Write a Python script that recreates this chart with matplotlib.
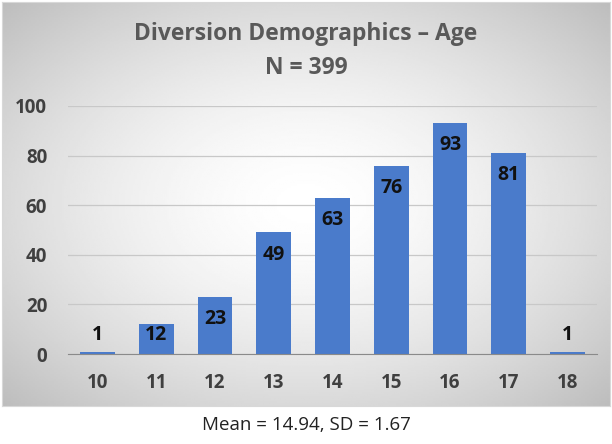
import numpy as np
import matplotlib.pyplot as plt

ages = ["10", "11", "12", "13", "14", "15", "16", "17", "18"]
counts = [1, 12, 23, 49, 63, 76, 93, 81, 1]
title = "Diversion Demographics \u2013 Age\nN = 399"
footer = "Mean = 14.94, SD = 1.67"

plt.rcParams['font.family'] = ['Open Sans', 'DejaVu Sans']

fig = plt.figure(figsize=(6.12, 4.44), dpi=100)

# radial gradient backdrop for the chart box
bg = fig.add_axes([2 / 612, 1 - 406 / 444, 608 / 612, 404 / 444])
gx, gy = np.meshgrid(np.linspace(-1, 1, 300), np.linspace(-1, 1, 220))
r = np.sqrt(gx ** 2 + gy ** 2) / np.sqrt(2)
bg.imshow(1 - 0.26 * r ** 1.6, cmap="gray", vmin=0, vmax=1, aspect="auto",
          extent=[0, 1, 0, 1])
bg.set_xticks([])
bg.set_yticks([])
for s in bg.spines.values():
    s.set_color("#d8d8d8")

ax = fig.add_axes([68 / 612, 1 - 354 / 444, 529 / 612, 248 / 444])
ax.patch.set_alpha(0)
x = np.arange(len(ages))
ax.bar(x, counts, width=0.59, color="#4A7BCB", zorder=3)
ax.set_xlim(-0.5, len(ages) - 0.5)
ax.set_ylim(0, 100)
ax.set_yticks([0, 20, 40, 60, 80, 100])
ax.set_xticks(x)
ax.set_xticklabels(ages)
ax.tick_params(length=0, labelsize=13.5, labelcolor="#404040")
ax.tick_params(axis="x", pad=14)
ax.tick_params(axis="y", pad=15)
for lbl in ax.get_xticklabels() + ax.get_yticklabels():
    lbl.set_fontweight("bold")
ax.grid(axis="y", color="#c8c8c8", linewidth=0.9, zorder=0)
for s in ["top", "right", "left"]:
    ax.spines[s].set_visible(False)
ax.spines["bottom"].set_color("#8a8a8a")
ax.spines["bottom"].set_zorder(4)

for xi, v in zip(x, counts):
    ax.text(xi, max(v - 8.9, 7.7), str(v), ha="center", va="center",
            fontsize=14, fontweight="bold", color="#111111", zorder=5)

fig.text(0.5, 1 - 51 / 444, title, ha="center", va="center", fontsize=16.5,
         fontweight="bold", color="#595959", linespacing=1.6)
fig.text(0.5, 1 - 425 / 444, footer, ha="center", va="center", fontsize=13.5,
         color="#222222")

fig.savefig("out.png", dpi=100)
